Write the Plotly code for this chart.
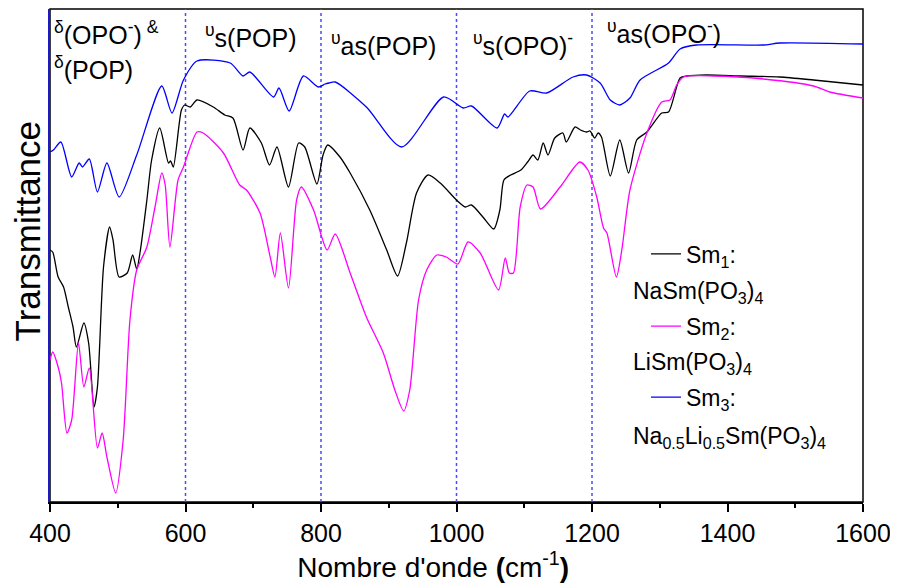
import plotly.graph_objects as go

# ---- data (wavenumber in cm-1, transmittance in arbitrary units) ----
sm1_wn = [400, 404, 412, 420, 427, 434, 439, 450, 457, 465, 470, 479, 488, 493, 502, 514, 522, 528, 533,
          543, 550, 562, 575, 578, 582, 594, 599, 607, 617, 641, 658, 670, 685, 695, 712, 724, 735, 752,
          767, 776, 794, 803, 810, 828, 843, 872, 897, 913, 926, 941, 958, 976, 1000, 1013, 1022, 1039,
          1055, 1064, 1070, 1080, 1095, 1105, 1113, 1120, 1128, 1135, 1145, 1157, 1162, 1175, 1183, 1192,
          1197, 1204, 1209, 1214, 1227, 1241, 1254, 1266, 1281, 1303, 1313, 1330, 1340, 1369, 1420, 1477,
          1527, 1600]
sm1_t = [250, 248, 223, 213, 193, 173, 153, 177, 157, 93, 113, 233, 273, 260, 223, 227, 245, 231, 248,
         300, 340, 372, 337, 339, 333, 390, 395, 393, 400, 393, 385, 382, 350, 372, 357, 335, 353, 313,
         357, 353, 316, 345, 355, 343, 327, 290, 250, 224, 257, 307, 325, 317, 300, 293, 295, 283,
         271, 290, 320, 325, 330, 338, 345, 340, 357, 345, 362, 367, 358, 373, 370, 368,
         369, 362, 367, 363, 324, 360, 327, 360, 368, 387, 388, 422, 424, 425, 424, 423,
         420, 415]

sm2_wn = [400, 404, 412, 417, 425, 432, 442, 450, 458, 470, 477, 484, 497, 508, 518, 528, 543, 555, 565,
          570, 577, 589, 597, 617, 626, 656, 680, 690, 710, 725, 732, 740, 752, 764, 771, 789, 809, 821,
          843, 867, 892, 909, 922, 931, 944, 956, 971, 985, 1002, 1017, 1035, 1062, 1072, 1078, 1084,
          1094, 1104, 1113, 1124, 1153, 1182, 1194, 1207, 1217, 1222, 1236, 1244, 1256, 1281, 1303,
          1315, 1325, 1335, 1380, 1453, 1527, 1551, 1600]
sm2_t = [140, 148, 133, 117, 67, 80, 157, 113, 132, 52, 67, 43, 7, 60, 180, 230, 253, 293, 327,
         315, 253, 320, 333, 368, 367, 347, 315, 310, 287, 243, 223, 267, 212, 300, 313, 290, 250, 266,
         227, 183, 147, 110, 89, 110, 200, 230, 245, 243, 236, 258, 247, 210, 242, 227, 227,
         293, 315, 313, 291, 313, 338, 330, 303, 272, 267, 223, 250, 310, 367, 398,
         400, 415, 423, 424, 421, 414, 408, 402]

sm3_wn = [400, 405, 416, 432, 443, 448, 458, 470, 484, 502, 528, 565, 580, 597, 617, 666, 685, 695, 730,
          738, 753, 774, 796, 806, 812, 821, 867, 919, 981, 1010, 1022, 1060, 1071, 1076, 1108, 1133,
          1172, 1192, 1212, 1227, 1241, 1256, 1271, 1313, 1330, 1354, 1453, 1477, 1600]
sm3_t = [348, 350, 358, 323, 337, 333, 341, 308, 337, 303, 345, 414, 387, 420, 439, 437, 424, 428, 403,
         412, 389, 424, 413, 416, 417, 418, 393, 353, 403, 392, 394, 372, 386, 383, 409, 407,
         423, 425, 417, 400, 395, 402, 420, 437, 451, 455, 455, 457, 456]

series_names = ["Sm<sub>1</sub>:", "Sm<sub>2</sub>:", "Sm<sub>3</sub>:"]
formulas = ["NaSm(PO<sub>3</sub>)<sub>4</sub>",
            "LiSm(PO<sub>3</sub>)<sub>4</sub>",
            "Na<sub>0.5</sub>Li<sub>0.5</sub>Sm(PO<sub>3</sub>)<sub>4</sub>"]
colors = ["#000000", "#ff00ff", "#0000ff"]

band_labels = ["<sup>δ</sup>(OPO<sup>-</sup>)<sup> &</sup>", "<sup>δ</sup>(POP)",
               "<sup>υ</sup>s(POP)", "<sup>υ</sup>as(POP)",
               "<sup>υ</sup>s(OPO)<sup>-</sup>", "<sup>υ</sup>as(OPO<sup>-</sup>)"]
band_edges = [600, 800, 1000, 1200]
x_ticks = [400, 600, 800, 1000, 1200, 1400, 1600]

FONT = "Arial, Liberation Sans, sans-serif"

fig = go.Figure()
data = [(sm1_wn, sm1_t), (sm2_wn, sm2_t), (sm3_wn, sm3_t)]
legend_ids = ["legend", "legend2", "legend3"]
for (wn, t), name, col, lg in zip(data, series_names, colors, legend_ids):
    fig.add_trace(go.Scatter(x=wn, y=t, mode="lines", name=name,
                             line=dict(color=col, width=1.3, shape="spline", smoothing=0.7),
                             legend=lg))

# frame (top/right border)
fig.add_shape(type="rect", xref="paper", yref="paper", x0=0, x1=1, y0=0, y1=1,
              line=dict(color="black", width=1.5), layer="below")
# dotted band separators
for xe in band_edges:
    fig.add_vline(x=xe, line=dict(color="#4a4aff", width=1.5, dash="dot"), layer="below")

# page body has an 8px margin: plot area spans screen x 50..863, y 9.3..501.7
def px2paper_x(px):
    return (px - 50) / 813.0

def px2paper_y(py):
    return (501.7 - py) / 492.4

band_pos = [(52, 33), (52, 68), (203, 36), (329, 44), (471, 44), (605, 32)]
for txt, (px, py) in zip(band_labels, band_pos):
    fig.add_annotation(text=txt, x=px2paper_x(px), y=px2paper_y(py), xref="paper", yref="paper",
                       xanchor="left", yanchor="middle", showarrow=False,
                       font=dict(family=FONT, size=25, color="black"))

formula_y = [292, 363, 437]
for txt, py in zip(formulas, formula_y):
    fig.add_annotation(text=txt, x=px2paper_x(631), y=px2paper_y(py), xref="paper", yref="paper",
                       xanchor="left", yanchor="middle", showarrow=False,
                       font=dict(family=FONT, size=23, color="black"))

legend_y = [254, 326, 397]
legend_common = dict(xanchor="left", yanchor="middle", bgcolor="rgba(0,0,0,0)",
                     font=dict(family=FONT, size=23, color="black"), borderwidth=0,
                     itemwidth=30, tracegroupgap=0)
legends = {}
for lg, py in zip(legend_ids, legend_y):
    legends[lg] = dict(x=px2paper_x(646), y=px2paper_y(py), **legend_common)

fig.update_layout(
    width=890, height=575,
    margin=dict(l=42, r=35, t=1, b=81, autoexpand=False),
    paper_bgcolor="white", plot_bgcolor="rgba(0,0,0,0)",
    showlegend=True,
    **legends,
)

fig.update_xaxes(
    range=[400, 1600], tickvals=x_ticks, ticktext=[str(v) for v in x_ticks],
    ticks="outside", ticklen=8, tickwidth=1.5, tickcolor="black",
    minor=dict(ticks="outside", ticklen=4, tickwidth=1.5, tickcolor="black", dtick=100, showgrid=False),
    showline=True, linecolor="black", linewidth=1.5, mirror=False,
    showgrid=False, zeroline=False,
    tickfont=dict(family=FONT, size=25, color="black"),
    title=dict(text="Nombre d'onde <b>(</b>cm<sup>-1</sup><b>)</b>" + "&nbsp;" * 6,
               font=dict(family=FONT, size=28, color="black"), standoff=0),
)
fig.update_yaxes(
    range=[-2, 491], showticklabels=False, ticks="",
    showline=True, linecolor="#1a1ac8", linewidth=2, mirror=False,
    showgrid=False, zeroline=False,
    title=dict(text="&nbsp;" * 5 + "Transmittance",
               font=dict(family=FONT, size=35, color="black"), standoff=4),
)

fig.write_html("out.html")
